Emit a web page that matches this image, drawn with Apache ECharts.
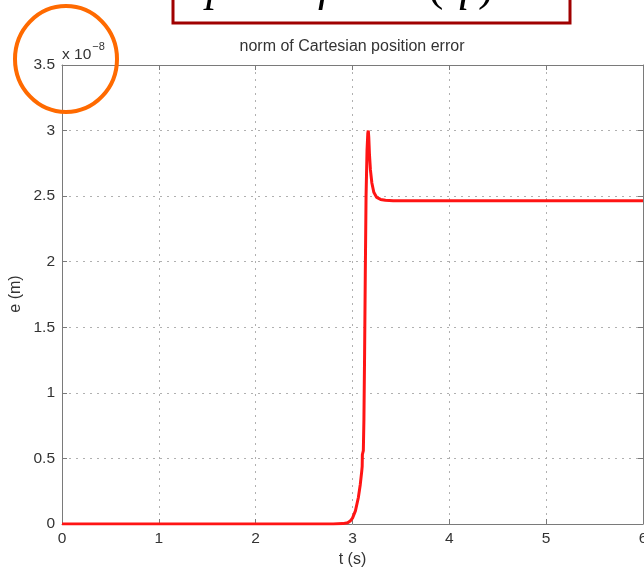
<!DOCTYPE html>
<html>
<head>
<meta charset="utf-8">
<script src="https://cdn.jsdelivr.net/npm/echarts@6/dist/echarts.min.js"></script>
<style>
  html, body { margin: 0; padding: 0; background: #fff; }
  #chart { width: 644px; height: 570px; }
</style>
</head>
<body>
<div id="chart"></div>
<script>
// time samples (s) and Cartesian position error norm (units of 1e-8 m)
const tValues = [0, 1, 2, 2.8, 2.9, 2.95, 2.98, 3.0, 3.03, 3.06, 3.08, 3.095, 3.1, 3.102, 3.112, 3.118,
                 3.125, 3.132, 3.14, 3.15, 3.158, 3.163, 3.168, 3.175, 3.185, 3.2, 3.22, 3.25, 3.29, 3.34, 3.42, 3.6, 4, 5, 6];
const eValues = [0, 0, 0, 0, 0.003, 0.01, 0.025, 0.045, 0.1, 0.2, 0.3, 0.4, 0.44, 0.53, 0.56, 0.8,
                 1.3, 1.9, 2.5, 2.85, 2.98, 3.0, 2.95, 2.82, 2.7, 2.6, 2.53, 2.49, 2.475, 2.468, 2.465, 2.465, 2.465, 2.465, 2.465];
const xTicks = [0, 1, 2, 3, 4, 5, 6];
const yTicks = [0, 0.5, 1, 1.5, 2, 2.5, 3, 3.5];

const series = tValues.map((t, i) => [t, eValues[i]]);

const SANS = 'Liberation Sans, Arial, sans-serif';
const SERIF = 'Liberation Serif, serif';
const labelFont = { color: '#333', fontSize: 15.5, fontFamily: SANS };
const nameFont = { color: '#333', fontSize: 16, fontFamily: SANS };
const gridLine = { show: true, lineStyle: { color: '#b0b0b0', type: [2, 5], width: 1 } };
const axisLineStyle = { show: true, onZero: false, lineStyle: { color: '#7a7a7a', width: 1 } };
const innerTick = { show: true, inside: true, length: 5, lineStyle: { color: '#7a7a7a', width: 1 } };

// formula glyphs of the boxed heading, only their lower parts reach into view
const formulaGlyphs = [
  { ch: 'p', x: 206, italic: true },
  { ch: 'f', x: 318, italic: true },
  { ch: '(', x: 428, italic: false },
  { ch: 'q', x: 447, italic: true },
  { ch: ')', x: 478, italic: false }
];

const chart = echarts.init(document.getElementById('chart'), null, { renderer: 'canvas' });
chart.setOption({
  animation: false,
  backgroundColor: '#fff',
  grid: { left: 62, top: 65, right: 1, bottom: 46, containLabel: false, outerBoundsMode: 'none' },
  xAxis: [
    {
      type: 'value', min: xTicks[0], max: xTicks[xTicks.length - 1], interval: 1,
      axisLine: axisLineStyle,
      axisTick: innerTick,
      axisLabel: Object.assign({ margin: 7, showMaxLabel: true, showMinLabel: true }, labelFont),
      splitLine: gridLine,
      name: 't (s)', nameLocation: 'middle', nameGap: 26,
      nameTextStyle: nameFont
    },
    {
      type: 'value', position: 'top', min: 0, max: 6, interval: 1,
      axisLine: axisLineStyle,
      axisTick: innerTick,
      axisLabel: { show: false }, splitLine: { show: false }
    }
  ],
  yAxis: [
    {
      type: 'value', min: yTicks[0], max: yTicks[yTicks.length - 1], interval: 0.5,
      axisLine: axisLineStyle,
      axisTick: innerTick,
      axisLabel: Object.assign({ margin: 7 }, labelFont),
      splitLine: gridLine
    },
    {
      type: 'value', position: 'right', min: 0, max: 3.5, interval: 0.5,
      axisLine: axisLineStyle,
      axisTick: innerTick,
      axisLabel: { show: false }, splitLine: { show: false }
    }
  ],
  series: [{
    type: 'line',
    data: series,
    showSymbol: false,
    clip: true,
    lineStyle: { color: '#ff1414', width: 3 },
    itemStyle: { color: '#ff1414' },
    z: 5
  }],
  graphic: [
    {
      type: 'text', x: 352, y: 47,
      style: { text: 'norm of Cartesian position error', fill: '#333', fontSize: 16,
               fontFamily: SANS, align: 'center', verticalAlign: 'middle' }
    },
    {
      // y-axis title, rotated
      type: 'text', x: 16, y: 294, rotation: Math.PI / 2,
      style: { text: 'e (m)', fill: '#333', fontSize: 16, fontFamily: SANS,
               align: 'center', verticalAlign: 'middle' }
    },
    {
      type: 'text', x: 62, y: 52,
      style: {
        text: '{b|x 10}{s|−8}',
        verticalAlign: 'middle',
        rich: {
          b: { fill: '#333', fontSize: 15.5, fontFamily: SANS, verticalAlign: 'bottom' },
          s: { fill: '#333', fontSize: 11, fontFamily: SANS, verticalAlign: 'top', padding: [0, 0, 10, 1] }
        }
      }
    },
    {
      type: 'rect', shape: { x: 173, y: -20, width: 397, height: 43 },
      style: { fill: '#fff', stroke: '#a00000', lineWidth: 3 }, z: 10
    }
  ].concat(formulaGlyphs.map(g => ({
    type: 'text', x: g.x, y: 11, z: 11,
    style: { text: g.ch, fill: '#000', fontSize: 46, fontStyle: g.italic ? 'italic' : 'normal',
             fontFamily: SERIF, verticalAlign: 'bottom' }
  }))).concat([
    {
      type: 'ellipse', shape: { cx: 66, cy: 59, rx: 51, ry: 53 },
      style: { fill: 'none', stroke: '#ff6a00', lineWidth: 4 }, z: 12
    }
  ])
});
</script>
</body>
</html>
